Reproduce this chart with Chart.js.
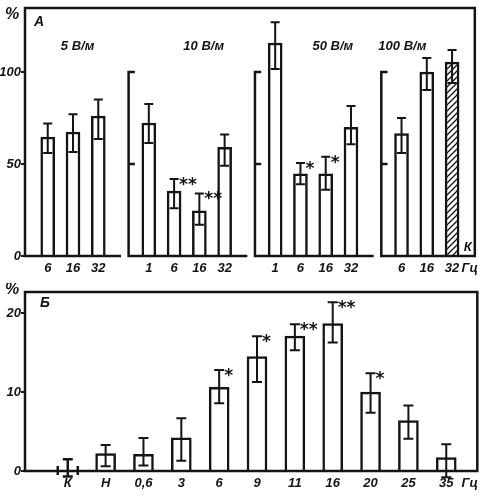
<!DOCTYPE html>
<html>
<head>
<meta charset="utf-8">
<script src="https://cdn.jsdelivr.net/npm/chart.js@4.4.1/dist/chart.umd.min.js"></script>
<style>
  html, body { margin: 0; padding: 0; background: #fff; }
  #wrap { position: relative; width: 483px; height: 502px; }
  #chartA { position: absolute; left: 0; top: 0; }
  #chartB { position: absolute; left: 0; top: 283px; }
</style>
</head>
<body>
<div id="wrap">
  <canvas id="chartA" width="483" height="283"></canvas>
  <canvas id="chartB" width="483" height="219"></canvas>
</div>
<script>
// --- panel A : field strength groups ---
const fieldsA = ['5 В/м', '10 В/м', '50 В/м', '100 В/м'];
const freqA = [['6', '16', '32'], ['1', '6', '16', '32'], ['1', '6', '16', '32'], ['6', '16', '32']];
const meanA = [[64.7, 67.4, 76.0], [72.3, 35.3, 24.5, 59.0], [115.8, 44.6, 44.6, 70.0], [66.6, 100.0, 105.4]];
// error bar ends (low / high)
const loA = [[56, 56.5, 63.6], [61.4, 26, 17, 49], [101.6, 39, 36, 60.8], [56, 90.2, 94]];
const hiA = [[72, 77, 85], [82.6, 41.8, 34, 66], [127, 50.5, 54, 81.5], [75, 107.6, 112]];
const sigA = [['', '', ''], ['', '**', '**', ''], ['', '*', '*', ''], ['', '', '']];
const controlA = [[0, 0, 0], [0, 0, 0, 0], [0, 0, 0, 0], [0, 0, 1]];
const ticksA = [0, 50, 100];

// --- panel B : frequencies ---
const catsB = ['К', 'Н', '0,6', '3', '6', '9', '11', '16', '20', '25', '35'];
const meanB = [0, 2.2, 2.1, 4.2, 10.6, 14.5, 17.1, 18.7, 10.0, 6.4, 1.7];
const loB = [-0.7, 0.6, 0.7, 1.3, 8.6, 11.3, 15.3, 16.3, 7.4, 4.1, -0.8];
const hiB = [1.5, 3.3, 4.2, 6.7, 12.8, 17.1, 18.6, 21.4, 12.4, 8.3, 3.4];
const sigB = ['', '', '', '', '*', '*', '**', '**', '*', '', ''];
const ticksB = [0, 10, 20];
const unit = 'Гц';

const INK = '#141414';
const LBL = 'italic bold 13px "Liberation Sans", sans-serif';

// layout of panel A (slot units)
const titleShiftA = [1.18, 2.17, 2.28, 0.03];
const starts = [];
let pos = 1;
freqA.forEach(g => { starts.push(pos); pos += g.length + 1; });

const pointsA = [], lowsA = [], highsA = [], marksA = [], tickPosA = [], tickTxtA = [], ctrlA = [];
freqA.forEach((g, gi) => g.forEach((f, j) => {
  pointsA.push({ x: starts[gi] + j, y: meanA[gi][j] });
  lowsA.push(loA[gi][j]);
  highsA.push(hiA[gi][j]);
  marksA.push(sigA[gi][j]);
  ctrlA.push(controlA[gi][j]);
  tickPosA.push(starts[gi] + j);
  tickTxtA.push(f);
}));
tickPosA.push(17.7); tickTxtA.push(unit);

const pointsB = meanB.map((v, i) => ({ x: i, y: v }));
const tickPosB = catsB.map((c, i) => i).concat([10.62]);
const tickTxtB = catsB.concat([unit]);

function hatch() {
  const c = document.createElement('canvas');
  c.width = 6; c.height = 6;
  const g = c.getContext('2d');
  g.fillStyle = '#fff'; g.fillRect(0, 0, 6, 6);
  g.strokeStyle = INK; g.lineWidth = 1.3;
  g.beginPath();
  g.moveTo(0, 6); g.lineTo(6, 0);
  g.moveTo(-1, 1); g.lineTo(1, -1);
  g.moveTo(5, 7); g.lineTo(7, 5);
  g.stroke();
  return g.createPattern(c, 'repeat');
}
const hatchFill = hatch();

// error bars + significance stars, drawn over the bars
const errorBars = {
  id: 'errorBars',
  afterDatasetsDraw(chart) {
    const ctx = chart.ctx, ys = chart.scales.y;
    chart.data.datasets.forEach((ds, di) => {
      chart.getDatasetMeta(di).data.forEach((bar, i) => {
        const v = ds.data[i].y;
        const top = ys.getPixelForValue(ds.highs[i]), bot = ys.getPixelForValue(ds.lows[i]);
        const cap = ds.capHalf;
        ctx.save();
        ctx.strokeStyle = INK; ctx.lineWidth = 2;
        ctx.beginPath();
        ctx.moveTo(bar.x, top); ctx.lineTo(bar.x, bot);
        ctx.moveTo(bar.x - cap, top); ctx.lineTo(bar.x + cap, top);
        ctx.moveTo(bar.x - cap, bot); ctx.lineTo(bar.x + cap, bot);
        if (v === 0) { // empty bar: only its edges on the baseline
          const b = ys.getPixelForValue(0), h = bar.width / 2;
          ctx.lineWidth = 2.5;
          ctx.moveTo(bar.x - h, b - 5); ctx.lineTo(bar.x - h, b + 4);
          ctx.moveTo(bar.x + h, b - 5); ctx.lineTo(bar.x + h, b + 4);
        }
        ctx.stroke();
        if (ds.marks[i]) {
          ctx.fillStyle = INK;
          ctx.font = 'bold 17px "DejaVu Sans", sans-serif';
          ctx.textBaseline = 'top';
          ctx.textAlign = 'left';
          ctx.fillText(ds.marks[i], bar.x + 5, top - 2);
        }
        ctx.restore();
      });
    });
  }
};

const frameA = {
  id: 'frameA',
  afterDraw(chart) {
    const { ctx, chartArea: a, scales: { x, y } } = chart;
    ctx.save();
    ctx.strokeStyle = INK; ctx.lineWidth = 2.5; ctx.lineCap = 'square';
    ctx.beginPath();
    ctx.moveTo(a.left, a.bottom); ctx.lineTo(a.left, a.top);
    ctx.lineTo(a.right, a.top); ctx.lineTo(a.right, a.bottom);
    starts.forEach((s, g) => {
      const x0 = g === 0 ? a.left : x.getPixelForValue(s - 0.8);
      const x1 = g === starts.length - 1 ? a.right : x.getPixelForValue(starts[g + 1] - 1.15);
      ctx.moveTo(x0, a.bottom); ctx.lineTo(x1, a.bottom);
      if (g > 0) {
        ctx.moveTo(x0, a.bottom); ctx.lineTo(x0, y.getPixelForValue(100)); ctx.lineTo(x0 + 5, y.getPixelForValue(100));
        ctx.moveTo(x0, y.getPixelForValue(50)); ctx.lineTo(x0 + 5, y.getPixelForValue(50));
      }
    });
    ctx.stroke();
    ctx.fillStyle = INK;
    ctx.font = LBL;
    ctx.textAlign = 'center'; ctx.textBaseline = 'middle';
    fieldsA.forEach((t, g) => ctx.fillText(t, x.getPixelForValue(starts[g] + titleShiftA[g]), y.getPixelForValue(114)));
    // control bar mark
    const ci = ctrlA.indexOf(1);
    ctx.fillText('К', x.getPixelForValue(pointsA[ci].x + 0.62), y.getPixelForValue(4.5));
    ctx.font = 'italic bold 16px "Liberation Sans", sans-serif';
    ctx.fillText('%', 12, 15);
    ctx.font = 'italic bold 14px "Liberation Sans", sans-serif';
    ctx.fillText('А', a.left + 14, a.top + 14);
    ctx.restore();
  }
};

const frameB = {
  id: 'frameB',
  afterDraw(chart) {
    const { ctx, chartArea: a } = chart;
    ctx.save();
    ctx.strokeStyle = INK; ctx.lineWidth = 2.5;
    ctx.strokeRect(a.left, a.top, a.right - a.left, a.bottom - a.top);
    ctx.fillStyle = INK;
    ctx.textAlign = 'center'; ctx.textBaseline = 'middle';
    ctx.font = 'italic bold 16px "Liberation Sans", sans-serif';
    ctx.fillText('%', 12, 7);
    ctx.font = 'italic bold 14px "Liberation Sans", sans-serif';
    ctx.fillText('Б', a.left + 20, a.top + 11);
    ctx.restore();
  }
};

function xScale(min, max, tickPos, tickTxt, height) {
  return {
    type: 'linear', min: min, max: max, offset: false,
    afterBuildTicks: s => { s.ticks = tickPos.map(v => ({ value: v })); },
    afterFit: s => { s.height = height; },
    grid: { display: false, drawTicks: false },
    border: { display: false },
    ticks: {
      autoSkip: false, maxRotation: 0, padding: 5, color: INK,
      font: { family: '"Liberation Sans", sans-serif', size: 13, style: 'italic', weight: 'bold' },
      callback: (v, i) => tickTxt[i]
    }
  };
}

function yScale(max, ticks) {
  return {
    type: 'linear', min: 0, max: max,
    afterBuildTicks: s => { s.ticks = ticks.map(v => ({ value: v })); },
    afterFit: s => { s.width = 25; },
    grid: { drawOnChartArea: false, drawTicks: true, tickLength: 4, color: INK, lineWidth: 2 },
    border: { display: false },
    ticks: {
      padding: 0, color: INK,
      font: { family: '"Liberation Sans", sans-serif', size: 13, style: 'italic', weight: 'bold' }
    }
  };
}

const common = {
  responsive: false,
  animation: false,
  events: [],
  plugins: { legend: { display: false }, tooltip: { enabled: false } }
};

new Chart(document.getElementById('chartA'), {
  type: 'bar',
  data: {
    datasets: [{
      data: pointsA,
      lows: lowsA,
      highs: highsA,
      marks: marksA,
      capHalf: 4.5,
      backgroundColor: c => ctrlA[c.dataIndex] ? hatchFill : '#fff',
      borderColor: INK,
      borderWidth: 2.5,
      barThickness: 14
    }]
  },
  options: Object.assign({}, common, {
    layout: { padding: { top: 8, right: 5, left: 0, bottom: 0 } },
    scales: { x: xScale(0.1, 17.9, tickPosA, tickTxtA, 27), y: yScale(134.8, ticksA) }
  }),
  plugins: [errorBars, frameA]
});

new Chart(document.getElementById('chartB'), {
  type: 'bar',
  data: {
    datasets: [{
      data: pointsB,
      lows: loB,
      highs: hiB,
      marks: sigB,
      capHalf: 5,
      backgroundColor: '#fff',
      borderColor: INK,
      borderWidth: 2.5,
      barThickness: 20
    }]
  },
  options: Object.assign({}, common, {
    layout: { padding: { top: 9, right: 5, left: 0, bottom: 0 } },
    scales: { x: xScale(-1.13, 10.82, tickPosB, tickTxtB, 31), y: yScale(22.7, ticksB) }
  }),
  plugins: [errorBars, frameB]
});
</script>
</body>
</html>
